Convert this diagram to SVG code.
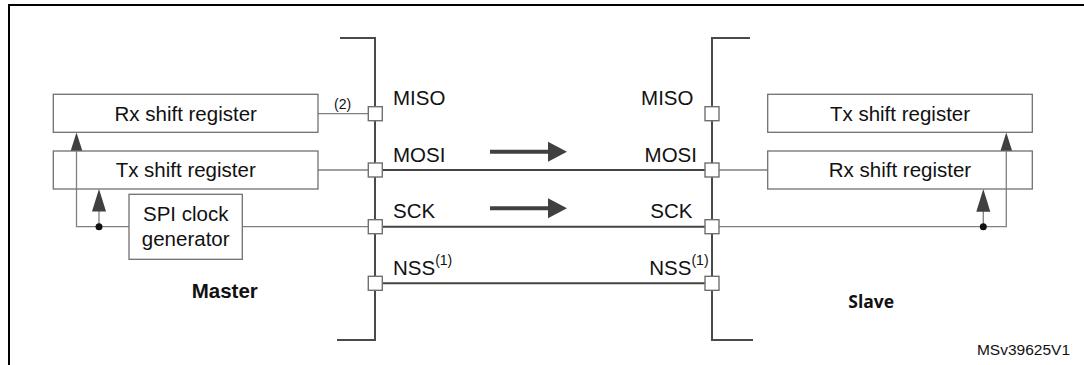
<svg xmlns="http://www.w3.org/2000/svg" width="1084" height="365" viewBox="0 0 1084 365">
<style>
.box{fill:#fff;stroke:#707070;stroke-width:1.3}
.t{font-family:"Liberation Sans",Arial,sans-serif;font-size:20.5px;fill:#111}
.sm{font-family:"Liberation Sans",Arial,sans-serif;font-size:14px;fill:#111}
.bus{fill:none;stroke:#4a4a4a;stroke-width:2}
.sig{fill:none;stroke:#444;stroke-width:2}
.thin{fill:none;stroke:#808080;stroke-width:1.3}
.pin{fill:#fff;stroke:#707070;stroke-width:1.4}
.ah{fill:#404040}
.big{fill:none;stroke:#404040;stroke-width:4}
</style>
<rect width="1084" height="365" fill="#fff"/>
<path d="M9,365 V5 H1084" fill="none" stroke="#000" stroke-width="2"/>

<g id="connectors">
  <line class="sig" x1="382" y1="170" x2="705" y2="170"/>
  <line class="sig" x1="382" y1="226.7" x2="705" y2="226.7"/>
  <line class="sig" x1="382" y1="283.3" x2="705" y2="283.3"/>
  <line class="thin" x1="318" y1="113.7" x2="368" y2="113.7"/>
  <line class="thin" x1="318" y1="170" x2="368" y2="170"/>
  <line class="thin" x1="242" y1="226.7" x2="368" y2="226.7"/>
  <polyline class="thin" points="129,226.7 76.5,226.7 76.5,154"/>
  <polygon class="ah" points="76.5,132.5 69.5,154.5 83.5,154.5"/>
  <line class="thin" x1="99" y1="226.7" x2="99" y2="211"/>
  <polygon class="ah" points="99,189 92,211.5 106,211.5"/>
  <circle cx="99" cy="226.7" r="3.5" fill="#111"/>
  <line class="thin" x1="719" y1="170" x2="767.7" y2="170"/>
  <polyline class="thin" points="719,226.7 1006.3,226.7 1006.3,154"/>
  <polygon class="ah" points="1006.3,132.5 999.3,154.5 1013.3,154.5"/>
  <line class="thin" x1="983.3" y1="226.7" x2="983.3" y2="211"/>
  <polygon class="ah" points="983.3,189 976.3,211.7 990.3,211.7"/>
  <circle cx="983.3" cy="226.7" r="3.5" fill="#111"/>
  <line class="big" x1="490" y1="151.7" x2="550" y2="151.7"/>
  <polygon class="ah" points="567,151.7 548,141.7 548,161.7"/>
  <line class="big" x1="490" y1="208.3" x2="550" y2="208.3"/>
  <polygon class="ah" points="567,208.3 548,198.3 548,218.3"/>
</g>

<g id="master-bus">
  <path class="bus" d="M340,38 H375 V340 H337"/>
  <rect class="pin" x="368.3" y="106.7" width="14" height="14"/>
  <rect class="pin" x="368.3" y="163" width="14" height="14"/>
  <rect class="pin" x="368.3" y="219.7" width="14" height="14"/>
  <rect class="pin" x="368.3" y="276.3" width="14" height="14"/>
  <text class="t" x="393" y="105">MISO</text>
  <text class="t" x="393" y="161.7">MOSI</text>
  <text class="t" x="393" y="218.3">SCK</text>
  <text class="t" x="393" y="275">NSS<tspan class="sm" dy="-10">(1)</tspan></text>
  <text class="sm" x="334" y="108.5">(2)</text>
  <text x="191.7" y="298.3" font-family="'Liberation Sans',Arial,sans-serif" font-weight="bold" font-size="20.5" fill="#111">Master</text>
</g>

<g id="slave-bus">
  <path class="bus" d="M750,38 H712 V340 H753"/>
  <rect class="pin" x="705" y="106.7" width="14" height="14"/>
  <rect class="pin" x="705" y="163" width="14" height="14"/>
  <rect class="pin" x="705" y="219.7" width="14" height="14"/>
  <rect class="pin" x="705" y="276.3" width="14" height="14"/>
  <text class="t" x="693.5" y="105" text-anchor="end">MISO</text>
  <text class="t" x="697" y="161.7" text-anchor="end">MOSI</text>
  <text class="t" x="692.5" y="218.3" text-anchor="end">SCK</text>
  <text class="t" x="649.3" y="275">NSS<tspan class="sm" dy="-10">(1)</tspan></text>
  <text x="848.3" y="307.7" font-family="'Open Sans','Noto Sans',sans-serif" font-weight="bold" font-size="17.5" fill="#111">Slave</text>
</g>

<g id="master-rx">
  <rect class="box" x="53.3" y="94.3" width="264.7" height="38"/>
  <text class="t" x="185.7" y="120.5" text-anchor="middle">Rx shift register</text>
</g>
<g id="master-tx">
  <rect class="box" x="53.3" y="151" width="264.7" height="38"/>
  <text class="t" x="185.7" y="177.3" text-anchor="middle">Tx shift register</text>
</g>
<g id="spi-clock">
  <rect class="box" x="129" y="194.3" width="113.3" height="65"/>
  <text class="t" x="185.7" y="220.7" text-anchor="middle">SPI clock</text>
  <text class="t" x="185.7" y="245.5" text-anchor="middle">generator</text>
</g>
<g id="slave-tx">
  <rect class="box" x="767.7" y="94.3" width="264.6" height="38"/>
  <text class="t" x="900" y="120.5" text-anchor="middle">Tx shift register</text>
</g>
<g id="slave-rx">
  <rect class="box" x="767.7" y="151" width="264.6" height="38"/>
  <text class="t" x="900" y="177.3" text-anchor="middle">Rx shift register</text>
</g>
<line class="thin" x1="1006.3" y1="151" x2="1006.3" y2="189"/>
<line class="thin" x1="76.5" y1="151" x2="76.5" y2="189"/>

<text class="t" x="1070" y="355" text-anchor="end" font-size="15.5" style="font-size:15.5px">MSv39625V1</text>
</svg>
